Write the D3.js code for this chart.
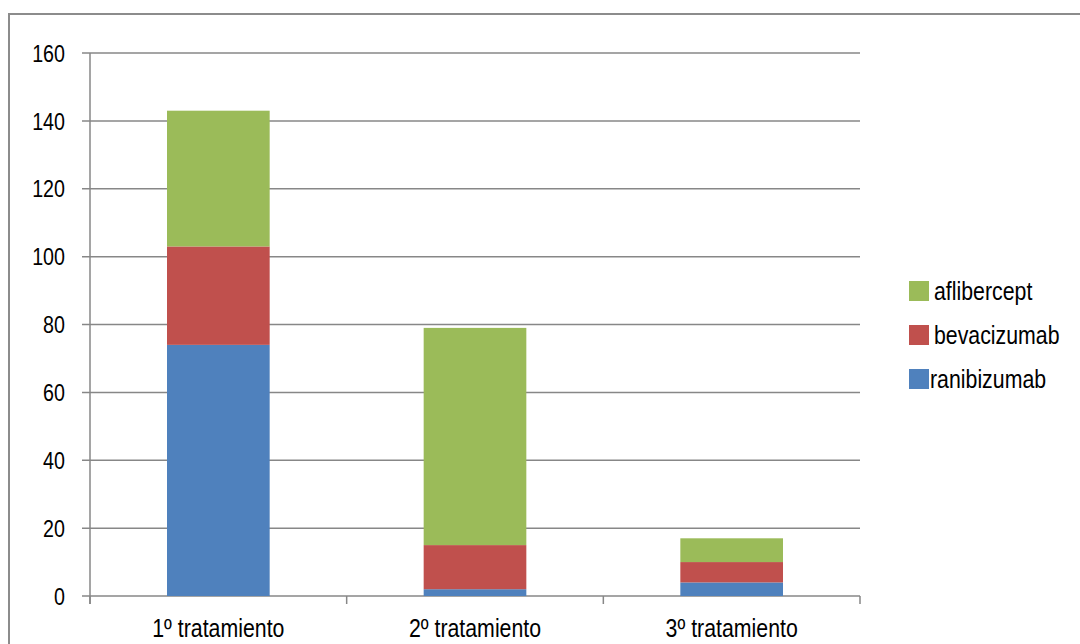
<!DOCTYPE html>
<html>
<head>
<meta charset="utf-8">
<script src="https://cdn.jsdelivr.net/npm/d3@7"></script>
<style>
  html, body { margin: 0; padding: 0; background: #fff; }
  svg { display: block; }
  text { font-family: "Liberation Sans Narrow", "Arial Narrow", "Liberation Sans", Arial, sans-serif; fill: #000; }
</style>
</head>
<body>
<svg id="chart" width="1080" height="644"></svg>
<script>
const categories = ["1º tratamiento", "2º tratamiento", "3º tratamiento"];
const seriesNames = ["ranibizumab", "bevacizumab", "aflibercept"];
const ranibizumab = [74, 2, 4];
const bevacizumab = [29, 13, 6];
const aflibercept = [40, 64, 7];
const yTicks = [0, 20, 40, 60, 80, 100, 120, 140, 160];
const colors = ["#4F81BD", "#C0504D", "#9BBB59"];

const svg = d3.select("#chart");
const W = 1080, H = 644;
const plot = { left: 90, right: 860, top: 53, bottom: 596 };
const SX = 0.82; // horizontal condensing to imitate a narrow face

// outer chart border
svg.append("rect")
  .attr("x", 9).attr("y", 14)
  .attr("width", W + 20).attr("height", H + 20)
  .attr("fill", "none").attr("stroke", "#8c8c8c").attr("stroke-width", 2);

const x = d3.scaleBand().domain(categories).range([plot.left, plot.right]).paddingInner(0).paddingOuter(0);
const y = d3.scaleLinear().domain([0, 160]).range([plot.bottom, plot.top]);

// gridlines
svg.append("g").selectAll("line").data(yTicks).join("line")
  .attr("x1", plot.left - 8).attr("x2", plot.right)
  .attr("y1", d => y(d)).attr("y2", d => y(d))
  .attr("stroke", "#878787").attr("stroke-width", 1.5);

// y axis line
svg.append("line")
  .attr("x1", plot.left).attr("x2", plot.left)
  .attr("y1", plot.top).attr("y2", plot.bottom + 8)
  .attr("stroke", "#878787").attr("stroke-width", 1.5);

// y labels
svg.append("g").selectAll("text").data(yTicks).join("text")
  .attr("transform", d => `translate(${plot.left - 25},${y(d)}) scale(${SX},1)`)
  .attr("dy", "0.36em")
  .attr("text-anchor", "end")
  .attr("font-size", 24)
  .text(d => d);

// x axis ticks (category boundaries)
const bounds = categories.map(c => x(c)).concat([plot.right]);
svg.append("g").selectAll("line").data(bounds).join("line")
  .attr("x1", d => d).attr("x2", d => d)
  .attr("y1", plot.bottom).attr("y2", plot.bottom + 8)
  .attr("stroke", "#878787").attr("stroke-width", 1.5);

// stacked data
const table = categories.map((c, i) => ({
  cat: c,
  ranibizumab: ranibizumab[i],
  bevacizumab: bevacizumab[i],
  aflibercept: aflibercept[i]
}));
const stack = d3.stack().keys(seriesNames)(table);
const barW = x.bandwidth() * 0.4;

svg.append("g").selectAll("g").data(stack).join("g")
  .attr("fill", (d, i) => colors[i])
  .selectAll("rect").data(d => d).join("rect")
  .attr("x", d => x(d.data.cat) + (x.bandwidth() - barW) / 2)
  .attr("width", barW)
  .attr("y", d => y(d[1]))
  .attr("height", d => y(d[0]) - y(d[1]));

// x labels
svg.append("g").selectAll("text").data(categories).join("text")
  .attr("transform", d => `translate(${x(d) + x.bandwidth() / 2},637) scale(${SX},1)`)
  .attr("text-anchor", "middle")
  .attr("font-size", 26)
  .text(d => d);

// legend
const legendOrder = [2, 1, 0];
const lg = svg.append("g");
legendOrder.forEach((si, k) => {
  const cy = 291 + k * 44;
  lg.append("rect")
    .attr("x", 909).attr("y", cy - 10)
    .attr("width", 20).attr("height", 20)
    .attr("fill", colors[si]);
  lg.append("text")
    .attr("transform", `translate(${si === 0 ? 930 : 934},${cy}) scale(${SX},1)`)
    .attr("dy", "0.36em")
    .attr("font-size", 26)
    .text(seriesNames[si]);
});
</script>
</body>
</html>
